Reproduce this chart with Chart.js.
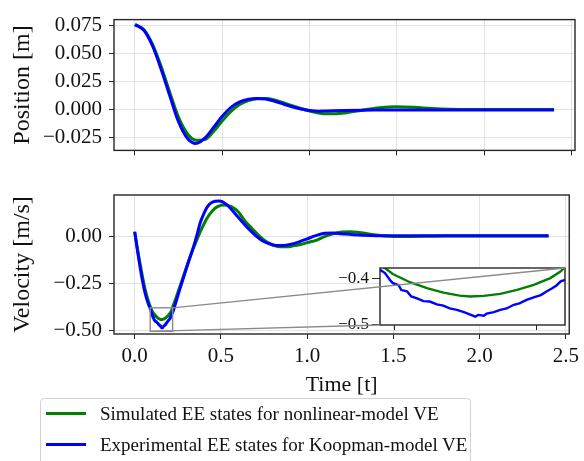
<!DOCTYPE html>
<html>
<head>
<meta charset="utf-8">
<script src="https://cdn.jsdelivr.net/npm/chart.js@4.4.1/dist/chart.umd.min.js"></script>
<style>
  html, body { margin: 0; padding: 0; background: #fff; }
  #wrap { position: relative; width: 584px; height: 461px; overflow: hidden; background: #fff; }
  #wrap canvas { position: absolute; left: 0; }
  #legend {
    position: absolute; left: 40px; top: 398px; width: 431px; height: 90px;
    box-sizing: border-box; border: 1px solid #d2d2d2; border-radius: 4px; background: #fff;
  }
  #legend .row {
    position: absolute; left: 0; height: 31px; line-height: 31px; white-space: nowrap;
    font-family: 'Liberation Serif', 'Times New Roman', serif; font-size: 19px; color: #111;
  }
  #legend .swatch { position: absolute; left: 5px; top: 14px; width: 40px; height: 3px; }
  #legend .txt { position: absolute; left: 59px; top: 0; }
</style>
</head>
<body>
<div id="wrap">
  <canvas id="posChart" width="584" height="170" style="top:0"></canvas>
  <canvas id="velChart" width="584" height="228" style="top:170px"></canvas>
  <canvas id="zoomChart" width="584" height="228" style="top:170px"></canvas>
  <div id="legend"></div>
</div>
<script>
// --- series labels / colours ---
const seriesLabels = [
  'Simulated EE states for nonlinear-model VE',
  'Experimental EE states for Koopman-model VE'
];
const seriesColors = ['#008000', '#0000ff'];

// --- position [m] ---
const posTime = [0, 0.05, 0.10, 0.15, 0.20, 0.25, 0.30, 0.35, 0.40, 0.45, 0.50, 0.55,
  0.60, 0.65, 0.70, 0.75, 0.80, 0.85, 0.90, 0.95, 1.00, 1.05, 1.10, 1.20, 1.30, 1.40,
  1.50, 1.60, 1.70, 1.80, 1.90, 2.00, 2.10, 2.20, 2.30, 2.40];
const posSim = [0.0758, 0.0715, 0.0585, 0.0385, 0.0150, -0.0070, -0.0215, -0.0273, -0.0268,
  -0.0195, -0.0100, -0.0015, 0.0045, 0.0080, 0.0097, 0.0098, 0.0085, 0.0062, 0.0035, 0.0010,
  -0.0012, -0.0030, -0.0038, -0.0030, -0.0005, 0.0017, 0.0025, 0.0020, 0.0010, 0.0003,
  0.0000, 0.0000, 0.0000, 0.0000, 0.0000, 0.0000];
const posExp = [0.0758, 0.0710, 0.0570, 0.0360, 0.0120, -0.0110, -0.0255, -0.0302, -0.0255,
  -0.0160, -0.0060, 0.0020, 0.0068, 0.0092, 0.0100, 0.0095, 0.0075, 0.0050, 0.0025, 0.0005,
  -0.0008, -0.0014, -0.0012, -0.0008, -0.0005, -0.0004, -0.0003, -0.0003, -0.0003, -0.0003,
  -0.0003, -0.0003, -0.0003, -0.0003, -0.0003, -0.0003];

// --- velocity [m/s] ---
const velSimTime = [0, 0.02, 0.04, 0.06, 0.08, 0.0935, 0.099, 0.111, 0.123, 0.1346, 0.146,
  0.1534, 0.1628, 0.1745, 0.1863, 0.198, 0.2097, 0.2168, 0.222, 0.24, 0.26, 0.28, 0.30, 0.32,
  0.34, 0.36, 0.38, 0.40, 0.42, 0.45, 0.48, 0.52, 0.56, 0.60, 0.64, 0.68, 0.72, 0.76, 0.80,
  0.84, 0.88, 0.92, 0.96, 1.00, 1.06, 1.10, 1.15, 1.20, 1.25, 1.30, 1.35, 1.40, 1.45, 1.50,
  1.60, 1.70, 1.80, 2.00, 2.20, 2.40];
const velSim = [0.020, -0.090, -0.190, -0.280, -0.345, -0.378, -0.391, -0.409, -0.422, -0.4315,
  -0.438, -0.440, -0.4387, -0.4344, -0.4256, -0.4147, -0.400, -0.3856, -0.370, -0.325, -0.272,
  -0.218, -0.165, -0.112, -0.065, -0.020, 0.022, 0.060, 0.095, 0.132, 0.155, 0.163, 0.155,
  0.128, 0.078, 0.040, 0.002, -0.028, -0.046, -0.056, -0.057, -0.052, -0.045, -0.035, -0.020,
  -0.003, 0.012, 0.021, 0.023, 0.019, 0.012, 0.005, 0.000, -0.002, -0.002, -0.001, 0.000,
  0.000, 0.000, 0.000];
const velExpTime = [0, 0.02, 0.04, 0.06, 0.08, 0.090, 0.0935, 0.097, 0.099, 0.103, 0.105, 0.109,
  0.112, 0.116, 0.1205, 0.125, 0.130, 0.1345, 0.139, 0.144, 0.149, 0.153, 0.157, 0.159, 0.163,
  0.165, 0.170, 0.1745, 0.179, 0.184, 0.188, 0.193, 0.198, 0.203, 0.207, 0.211, 0.214, 0.217,
  0.220, 0.24, 0.26, 0.28, 0.30, 0.32, 0.34, 0.36, 0.38, 0.40, 0.42, 0.45, 0.49, 0.53, 0.58,
  0.62, 0.66, 0.70, 0.74, 0.78, 0.82, 0.86, 0.90, 0.95, 1.00, 1.05, 1.10, 1.15, 1.20, 1.30,
  1.40, 1.50, 1.70, 1.90, 2.10, 2.40];
const velExp = [0.023, -0.100, -0.210, -0.300, -0.360, -0.382, -0.389, -0.404, -0.411, -0.415,
  -0.426, -0.429, -0.440, -0.444, -0.450, -0.451, -0.457, -0.460, -0.466, -0.469, -0.474, -0.479,
  -0.484, -0.480, -0.482, -0.477, -0.474, -0.469, -0.466, -0.458, -0.455, -0.4475, -0.442,
  -0.437, -0.429, -0.422, -0.416, -0.407, -0.404, -0.345, -0.285, -0.228, -0.170, -0.115,
  -0.060, 0.002, 0.070, 0.115, 0.152, 0.179, 0.184, 0.168, 0.120, 0.078, 0.038, 0.003, -0.025,
  -0.041, -0.050, -0.050, -0.045, -0.032, -0.015, 0.002, 0.014, 0.016, 0.012, 0.005, 0.002,
  0.001, 0.001, 0.001, 0.001, 0.001];

// --- tick values ---
const timeTicks = [0, 0.5, 1.0, 1.5, 2.0, 2.5];
const posTicks = [-0.025, 0, 0.025, 0.05, 0.075];
const velTicks = [-0.5, -0.25, 0];
const zoomTimeTicks = [0.1, 0.2];
const zoomVelTicks = [-0.5, -0.4];

// zoomed window (time, velocity)
const zoomX = [0.09, 0.22];
const zoomY = [-0.502, -0.378];

const FONT = "'Liberation Serif', 'Times New Roman', serif";
const TXT = '#111';
const GRID = 'rgba(0,0,0,0.11)';
const SPINE = '#262626';

const minus = (s) => s.replace('-', '\u2212');
const pts = (xs, ys) => xs.map((x, i) => ({ x, y: ys[i] }));
const fixTicks = (vals) => (scale) => { scale.ticks = vals.map(v => ({ value: v })); };

// box around the plotting area (all four spines)
const frame = {
  id: 'frame',
  afterDatasetsDraw(chart) {
    const { ctx, chartArea: a } = chart;
    ctx.save();
    ctx.strokeStyle = SPINE;
    ctx.lineWidth = 1.4;
    ctx.strokeRect(a.left, a.top, a.right - a.left, a.bottom - a.top);
    ctx.restore();
  }
};

const line = (i, xs, ys, extra) => Object.assign({
  label: seriesLabels[i], data: pts(xs, ys), borderColor: seriesColors[i],
  borderWidth: 3, pointRadius: 0, cubicInterpolationMode: 'monotone', order: 1 - i
}, extra || {});

const baseOpts = (padding) => ({
  responsive: false, animation: false, events: [],
  layout: { padding },
  plugins: { legend: { display: false }, tooltip: { enabled: false } }
});

const tickFont = { family: FONT, size: 21 };
const gridOpts = { color: GRID, tickColor: SPINE, tickLength: 5, drawTicks: true, lineWidth: 1 };

// ---------- position ----------
new Chart(document.getElementById('posChart'), {
  type: 'line',
  data: { datasets: [line(0, posTime, posSim), line(1, posTime, posExp)] },
  options: Object.assign(baseOpts({ top: 12, right: 9, left: 0, bottom: 0 }), {
    scales: {
      x: {
        type: 'linear', min: -0.12, max: 2.52,
        afterBuildTicks: fixTicks(timeTicks), afterFit: s => { s.height = 18; },
        grid: gridOpts, border: { display: false },
        ticks: { callback: () => '' }
      },
      y: {
        min: -0.0364, max: 0.0803,
        afterBuildTicks: fixTicks(posTicks), afterFit: s => { s.width = 114; },
        grid: gridOpts, border: { display: false },
        ticks: { font: tickFont, color: TXT, padding: 7, callback: v => minus(v.toFixed(3)) },
        title: { display: true, text: 'Position [m]', color: TXT,
          font: { family: FONT, size: 24, lineHeight: 1.2 }, padding: { top: 8, bottom: 0 } }
      }
    }
  }),
  plugins: [frame]
});

// ---------- velocity ----------
const zoomRect = {
  id: 'zoomRect',
  afterDatasetsDraw(chart) {
    const { ctx, scales: { x, y } } = chart;
    const x0 = x.getPixelForValue(zoomX[0]), x1 = x.getPixelForValue(zoomX[1]);
    const y0 = y.getPixelForValue(zoomY[0]), y1 = y.getPixelForValue(zoomY[1]);
    ctx.save();
    ctx.strokeStyle = '#8a8a8a';
    ctx.lineWidth = 1.4;
    ctx.strokeRect(x0, y1, x1 - x0, y0 - y1);
    ctx.restore();
  }
};

const velChart = new Chart(document.getElementById('velChart'), {
  type: 'line',
  data: { datasets: [line(0, velSimTime, velSim), line(1, velExpTime, velExp)] },
  options: Object.assign(baseOpts({ top: 25, right: 9, left: 0, bottom: 0 }), {
    scales: {
      x: {
        type: 'linear', min: -0.12, max: 2.52,
        afterBuildTicks: fixTicks(timeTicks), afterFit: s => { s.height = 64; },
        grid: gridOpts, border: { display: false },
        ticks: { font: tickFont, color: TXT, padding: 5, maxRotation: 0, callback: v => v.toFixed(1) },
        title: { display: true, text: 'Time [t]', color: TXT,
          font: { family: FONT, size: 22, lineHeight: 1.2 }, padding: { top: 0, bottom: 0 } }
      },
      y: {
        min: -0.516, max: 0.216,
        afterBuildTicks: fixTicks(velTicks), afterFit: s => { s.width = 114; },
        grid: gridOpts, border: { display: false },
        ticks: { font: tickFont, color: TXT, padding: 7, callback: v => minus(v.toFixed(2)) },
        title: { display: true, text: 'Velocity [m/s]', color: TXT,
          font: { family: FONT, size: 24, lineHeight: 1.2 }, padding: { top: 8, bottom: 0 } }
      }
    }
  }),
  plugins: [frame, zoomRect]
});

// ---------- zoomed inset ----------
const insetDecor = {
  id: 'insetDecor',
  beforeDraw(chart) {
    const { ctx, chartArea: a } = chart;
    ctx.save();
    ctx.fillStyle = '#fff';
    ctx.fillRect(a.left, a.top, a.right - a.left, a.bottom - a.top);
    ctx.restore();
  },
  afterDraw(chart) {
    const { ctx, chartArea: a } = chart;
    const vx = velChart.scales.x, vy = velChart.scales.y;
    ctx.save();
    ctx.strokeStyle = '#8a8a8a';
    ctx.lineWidth = 1.3;
    ctx.beginPath();
    ctx.moveTo(vx.getPixelForValue(zoomX[1]), vy.getPixelForValue(zoomY[1]));
    ctx.lineTo(a.right, a.top);
    ctx.moveTo(vx.getPixelForValue(zoomX[0]), vy.getPixelForValue(zoomY[0]));
    ctx.lineTo(a.left, a.bottom);
    ctx.stroke();
    ctx.restore();
  }
};

const insetGridX = { display: true, drawOnChartArea: false, drawTicks: true, tickLength: 5, tickColor: SPINE };
const insetGridY = { display: true, drawOnChartArea: false, drawTicks: true, tickLength: 8, tickColor: SPINE };

new Chart(document.getElementById('zoomChart'), {
  type: 'line',
  data: { datasets: [
    line(0, velSimTime, velSim, { borderWidth: 2.4, clip: 0, cubicInterpolationMode: 'default', tension: 0 }),
    line(1, velExpTime, velExp, { borderWidth: 2.4, clip: 0, cubicInterpolationMode: 'default', tension: 0 })
  ] },
  options: Object.assign(baseOpts({ top: 98, right: 19, left: 336, bottom: 0 }), {
    scales: {
      x: {
        type: 'linear', min: zoomX[0], max: zoomX[1],
        afterBuildTicks: fixTicks(zoomTimeTicks), afterFit: s => { s.height = 73; },
        grid: insetGridX, border: { display: false },
        ticks: { callback: () => '' }
      },
      y: {
        min: zoomY[0], max: zoomY[1],
        afterBuildTicks: fixTicks(zoomVelTicks), afterFit: s => { s.width = 44; },
        grid: insetGridY, border: { display: false },
        ticks: { font: { family: FONT, size: 17 }, color: TXT, padding: 3, callback: v => minus(v.toFixed(1)) }
      }
    }
  }),
  plugins: [insetDecor, frame]
});

// ---------- legend ----------
const legendEl = document.getElementById('legend');
seriesLabels.forEach((label, i) => {
  const row = document.createElement('div');
  row.className = 'row';
  row.style.top = (-1.5 + i * 31) + 'px';
  row.innerHTML = '<span class="swatch" style="background:' + seriesColors[i] + '"></span>' +
    '<span class="txt">' + label + '</span>';
  legendEl.appendChild(row);
});
</script>
</body>
</html>
